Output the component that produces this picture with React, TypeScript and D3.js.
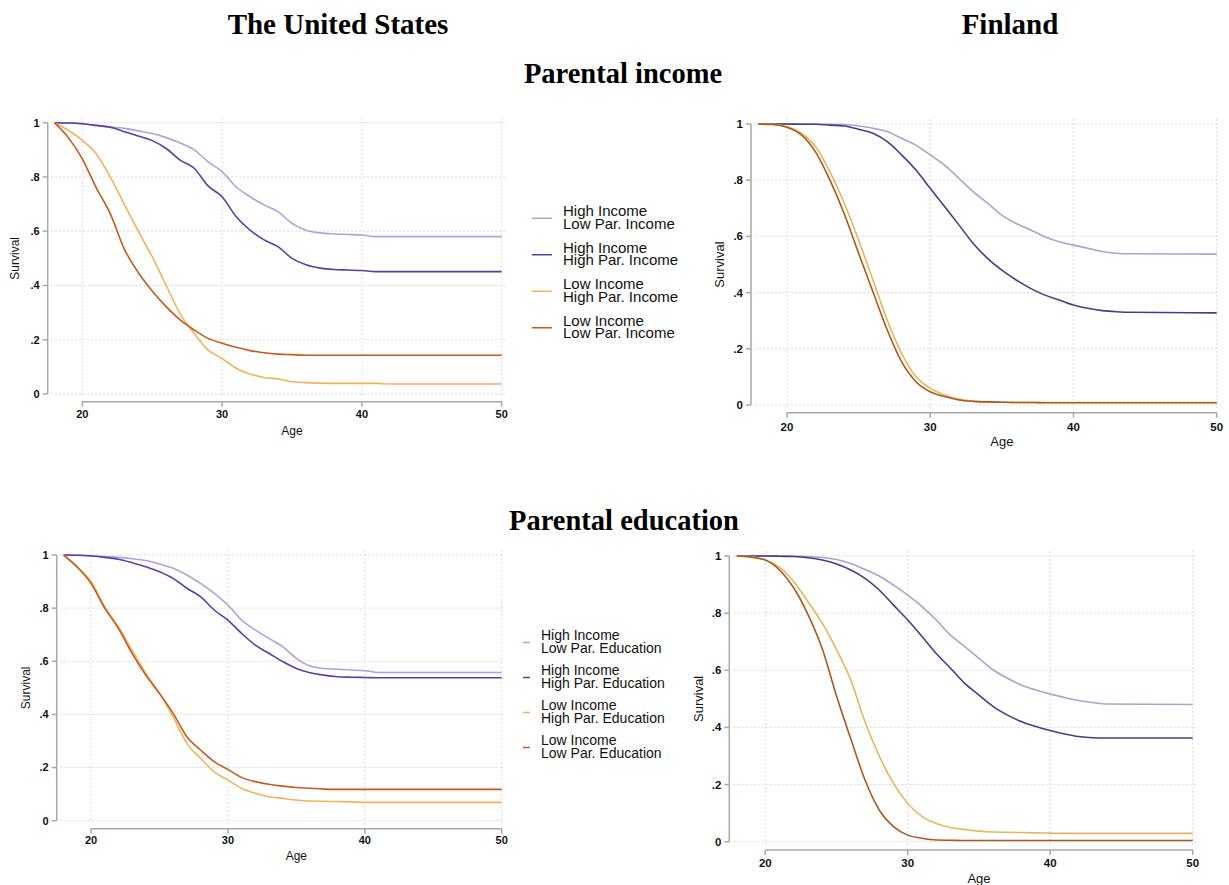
import React from "react";
import * as d3 from "d3";

const AGES = [18, 19, 20, 21, 22, 23, 24, 25, 26, 27, 28, 29, 30, 31, 32, 33, 34, 35, 36, 37, 38, 39, 40, 41, 42, 43, 44, 50];
const X_TICKS = [20, 30, 40, 50];
const Y_TICKS = [0, 0.2, 0.4, 0.6, 0.8, 1];

// US – parental income
const US_INC_HI_LOPAR = [1, 0.999, 0.996, 0.99, 0.985, 0.979, 0.97, 0.96, 0.945, 0.925, 0.9, 0.856, 0.82, 0.764, 0.727, 0.697, 0.672, 0.629, 0.604, 0.594, 0.59, 0.588, 0.586, 0.58, 0.58, 0.58, 0.58, 0.58];
const US_INC_HI_HIPAR = [1, 0.999, 0.996, 0.99, 0.983, 0.967, 0.951, 0.934, 0.905, 0.862, 0.832, 0.767, 0.727, 0.654, 0.604, 0.568, 0.543, 0.5, 0.476, 0.464, 0.459, 0.457, 0.455, 0.451, 0.451, 0.451, 0.451, 0.451];
const US_INC_LO_HIPAR = [1, 0.972, 0.935, 0.885, 0.8, 0.7, 0.6, 0.506, 0.4, 0.295, 0.223, 0.162, 0.131, 0.095, 0.074, 0.061, 0.055, 0.045, 0.042, 0.04, 0.039, 0.039, 0.039, 0.039, 0.037, 0.037, 0.037, 0.037];
const US_INC_LO_LOPAR = [1, 0.945, 0.867, 0.76, 0.665, 0.535, 0.448, 0.38, 0.322, 0.273, 0.236, 0.205, 0.187, 0.172, 0.16, 0.152, 0.147, 0.145, 0.143, 0.143, 0.143, 0.143, 0.143, 0.143, 0.143, 0.143, 0.143, 0.143];

// Finland – parental income
const FI_INC_HI_LOPAR = [1, 1, 1, 1, 0.999, 0.999, 0.998, 0.993, 0.985, 0.973, 0.949, 0.925, 0.89, 0.854, 0.807, 0.759, 0.718, 0.676, 0.646, 0.623, 0.599, 0.581, 0.569, 0.558, 0.546, 0.54, 0.538, 0.537];
const FI_INC_HI_HIPAR = [1, 1, 1, 0.999, 0.999, 0.996, 0.993, 0.981, 0.967, 0.937, 0.89, 0.836, 0.771, 0.706, 0.641, 0.575, 0.522, 0.48, 0.445, 0.415, 0.391, 0.374, 0.356, 0.344, 0.336, 0.332, 0.33, 0.328];
const FI_INC_LO_HIPAR = [1, 0.999, 0.99, 0.967, 0.919, 0.83, 0.718, 0.587, 0.445, 0.302, 0.184, 0.101, 0.059, 0.036, 0.021, 0.014, 0.012, 0.01, 0.009, 0.009, 0.009, 0.009, 0.009, 0.009, 0.009, 0.009, 0.009, 0.009];
const FI_INC_LO_LOPAR = [1, 0.998, 0.988, 0.961, 0.9, 0.8, 0.68, 0.54, 0.403, 0.267, 0.154, 0.083, 0.047, 0.03, 0.018, 0.013, 0.011, 0.01, 0.009, 0.009, 0.008, 0.008, 0.008, 0.008, 0.008, 0.008, 0.008, 0.008];

// US – parental education
const US_EDU_HI_LOPAR = [1, 0.999, 0.997, 0.994, 0.991, 0.986, 0.979, 0.966, 0.95, 0.925, 0.893, 0.856, 0.812, 0.755, 0.718, 0.686, 0.655, 0.611, 0.582, 0.573, 0.57, 0.567, 0.565, 0.558, 0.558, 0.558, 0.558, 0.558];
const US_EDU_HI_HIPAR = [1, 0.999, 0.996, 0.991, 0.984, 0.971, 0.956, 0.937, 0.912, 0.875, 0.843, 0.793, 0.755, 0.705, 0.661, 0.63, 0.599, 0.573, 0.557, 0.548, 0.542, 0.54, 0.539, 0.538, 0.538, 0.538, 0.538, 0.538];
const US_EDU_LO_HIPAR = [1, 0.956, 0.9, 0.806, 0.73, 0.642, 0.555, 0.479, 0.391, 0.291, 0.235, 0.184, 0.153, 0.122, 0.103, 0.09, 0.084, 0.078, 0.074, 0.073, 0.072, 0.071, 0.069, 0.069, 0.069, 0.069, 0.069, 0.069];
const US_EDU_LO_LOPAR = [1, 0.954, 0.893, 0.8, 0.724, 0.63, 0.548, 0.479, 0.404, 0.316, 0.266, 0.222, 0.193, 0.163, 0.147, 0.137, 0.13, 0.125, 0.122, 0.119, 0.118, 0.118, 0.118, 0.118, 0.118, 0.118, 0.118, 0.118];

// Finland – parental education
const FI_EDU_HI_LOPAR = [1, 1, 1, 1, 0.999, 0.998, 0.995, 0.988, 0.974, 0.953, 0.93, 0.898, 0.863, 0.823, 0.776, 0.723, 0.683, 0.642, 0.601, 0.572, 0.548, 0.531, 0.517, 0.505, 0.494, 0.487, 0.482, 0.48];
const FI_EDU_HI_HIPAR = [1, 1, 1, 0.999, 0.998, 0.994, 0.986, 0.972, 0.951, 0.922, 0.881, 0.828, 0.776, 0.718, 0.659, 0.607, 0.554, 0.513, 0.473, 0.443, 0.42, 0.403, 0.389, 0.377, 0.368, 0.364, 0.363, 0.363];
const FI_EDU_LO_HIPAR = [1, 0.997, 0.986, 0.96, 0.91, 0.84, 0.765, 0.672, 0.566, 0.42, 0.3, 0.204, 0.134, 0.088, 0.064, 0.05, 0.043, 0.037, 0.034, 0.033, 0.032, 0.031, 0.03, 0.029, 0.029, 0.029, 0.029, 0.029];
const FI_EDU_LO_LOPAR = [1, 0.996, 0.986, 0.951, 0.888, 0.795, 0.675, 0.51, 0.36, 0.216, 0.111, 0.053, 0.023, 0.012, 0.006, 0.005, 0.004, 0.004, 0.004, 0.004, 0.004, 0.004, 0.004, 0.004, 0.004, 0.004, 0.004, 0.004];

const LEGEND_INCOME = [
  ["High Income", "Low Par. Income"],
  ["High Income", "High Par. Income"],
  ["Low Income", "High Par. Income"],
  ["Low Income", "Low Par. Income"],
];
const LEGEND_EDU = [
  ["High Income", "Low Par. Education"],
  ["High Income", "High Par. Education"],
  ["Low Income", "High Par. Education"],
  ["Low Income", "Low Par. Education"],
];

const US_COLORS = ["#aca3dc", "#5a3da6", "#f1b35e", "#c8591f"];
const FI_COLORS = ["#aaa3cd", "#4a3a8c", "#e7b65c", "#a9591f"];

const SANS = "'Liberation Sans', Arial, Helvetica, sans-serif";
const SERIF = "'Liberation Serif', 'Times New Roman', serif";

type PanelProps = {
  series: number[][];
  colors: string[];
  xr: [number, number];
  yr: [number, number];
  yAxisX: number;
  xAxisY: number;
  tickDy: number;
  ageDy: number;
  survDx: number;
  tickSize: number;
  labelSize: number;
};

function Panel(p: PanelProps) {
  const x = d3.scaleLinear().domain([20, 50]).range(p.xr);
  const y = d3.scaleLinear().domain([0, 1]).range(p.yr);
  const line = d3
    .line<number>()
    .x((_, i) => x(AGES[i]))
    .y((d) => y(d))
    .curve(d3.curveMonotoneX);
  const fmt = (v: number) => (v === 0 ? "0" : v === 1 ? "1" : d3.format(".1f")(v).replace(/^0/, ""));
  const gx0 = x(18) - 3;
  const gx1 = x(50) + 3;
  const gy0 = y(1) - 5;
  const gy1 = y(0) + 3;
  const axisColor = "#a8a8a8";
  return (
    <g>
      {Y_TICKS.map((t) => (
        <line key={"gy" + t} x1={gx0} x2={gx1} y1={y(t)} y2={y(t)} stroke="#cfcfcf" strokeWidth={1} strokeDasharray="1.5,2.5" />
      ))}
      {X_TICKS.map((t) => (
        <line key={"gx" + t} x1={x(t)} x2={x(t)} y1={gy0} y2={gy1} stroke="#cfcfcf" strokeWidth={1} strokeDasharray="1.5,2.5" />
      ))}
      <line x1={p.yAxisX} x2={p.yAxisX} y1={y(1)} y2={y(0)} stroke={axisColor} strokeWidth={1.5} />
      {Y_TICKS.map((t) => (
        <g key={"yt" + t}>
          <line x1={p.yAxisX - 5} x2={p.yAxisX} y1={y(t)} y2={y(t)} stroke={axisColor} strokeWidth={1.5} />
          <text x={p.yAxisX - 8} y={y(t)} dy="0.35em" textAnchor="end" fontFamily={SANS} fontWeight="bold" fontSize={p.tickSize} fill="#111">
            {fmt(t)}
          </text>
        </g>
      ))}
      <line x1={x(20)} x2={x(50)} y1={p.xAxisY} y2={p.xAxisY} stroke={axisColor} strokeWidth={1.5} />
      {X_TICKS.map((t) => (
        <g key={"xt" + t}>
          <line x1={x(t)} x2={x(t)} y1={p.xAxisY} y2={p.xAxisY + 5} stroke={axisColor} strokeWidth={1.5} />
          <text x={x(t)} y={p.xAxisY + p.tickDy} textAnchor="middle" fontFamily={SANS} fontWeight="bold" fontSize={p.tickSize} fill="#111">
            {t}
          </text>
        </g>
      ))}
      <text x={(x(20) + x(50)) / 2} y={p.xAxisY + p.ageDy} textAnchor="middle" fontFamily={SANS} fontSize={p.labelSize} fill="#111">
        Age
      </text>
      <text
        transform={`translate(${p.yAxisX - p.survDx},${(y(0) + y(1)) / 2}) rotate(-90)`}
        textAnchor="middle"
        dy="0.35em"
        fontFamily={SANS}
        fontSize={p.labelSize}
        fill="#111"
      >
        Survival
      </text>
      {p.series.map((s, i) => (
        <path key={"s" + i} d={line(s) || ""} fill="none" stroke={p.colors[i]} strokeWidth={1.6} />
      ))}
    </g>
  );
}

function Legend(props: { items: string[][]; colors: string[]; x0: number; x1: number; tx: number; y0: number; step: number; lh: number; size: number }) {
  return (
    <g>
      {props.items.map((it, i) => {
        const by = props.y0 + i * props.step;
        const ly = by + props.lh * 0.5 - 4;
        return (
          <g key={i}>
            <line x1={props.x0} x2={props.x1} y1={ly} y2={ly} stroke={props.colors[i]} strokeWidth={1.5} />
            <text x={props.tx} y={by} fontFamily={SANS} fontSize={props.size} fill="#111">
              <tspan x={props.tx} y={by}>{it[0]}</tspan>
              <tspan x={props.tx} y={by + props.lh}>{it[1]}</tspan>
            </text>
          </g>
        );
      })}
    </g>
  );
}

export default function App() {
  return (
    <div style={{ position: "absolute", left: 0, top: 0 }}>
      <svg width={1229} height={885} style={{ display: "block", background: "#fff" }}>
        <text x={338} y={34} textAnchor="middle" fontFamily={SERIF} fontWeight="bold" fontSize={29} fill="#000">
          The United States
        </text>
        <text x={1010} y={34} textAnchor="middle" fontFamily={SERIF} fontWeight="bold" fontSize={29} fill="#000">
          Finland
        </text>
        <text x={623} y={83} textAnchor="middle" fontFamily={SERIF} fontWeight="bold" fontSize={28.5} fill="#000">
          Parental income
        </text>
        <text x={624} y={530} textAnchor="middle" fontFamily={SERIF} fontWeight="bold" fontSize={28.5} fill="#000">
          Parental education
        </text>

        <Panel
          series={[US_INC_HI_LOPAR, US_INC_HI_HIPAR, US_INC_LO_HIPAR, US_INC_LO_LOPAR]}
          colors={US_COLORS}
          xr={[82.3, 501.7]}
          yr={[394, 122.7]}
          yAxisX={47.7}
          xAxisY={401.7}
          tickDy={16.5}
          ageDy={33}
          survDx={33}
          tickSize={11}
          labelSize={12}
        />
        <Panel
          series={[FI_INC_HI_LOPAR, FI_INC_HI_HIPAR, FI_INC_LO_HIPAR, FI_INC_LO_LOPAR]}
          colors={FI_COLORS}
          xr={[787, 1216.7]}
          yr={[405, 124]}
          yAxisX={751}
          xAxisY={412.7}
          tickDy={18}
          ageDy={33}
          survDx={32}
          tickSize={11.5}
          labelSize={13}
        />
        <Panel
          series={[US_EDU_HI_LOPAR, US_EDU_HI_HIPAR, US_EDU_LO_HIPAR, US_EDU_LO_LOPAR]}
          colors={US_COLORS}
          xr={[91, 501.7]}
          yr={[820.7, 555]}
          yAxisX={56.7}
          xAxisY={828.7}
          tickDy={15}
          ageDy={31}
          survDx={31}
          tickSize={11}
          labelSize={12}
        />
        <Panel
          series={[FI_EDU_HI_LOPAR, FI_EDU_HI_HIPAR, FI_EDU_LO_HIPAR, FI_EDU_LO_LOPAR]}
          colors={FI_COLORS}
          xr={[765.3, 1192.7]}
          yr={[841.7, 556]}
          yAxisX={729.3}
          xAxisY={850}
          tickDy={17}
          ageDy={33}
          survDx={31}
          tickSize={11.5}
          labelSize={13}
        />

        <Legend items={LEGEND_INCOME} colors={US_COLORS} x0={532} x1={552} tx={563} y0={216} step={36.5} lh={12.5} size={15} />
        <Legend items={LEGEND_EDU} colors={US_COLORS} x0={523} x1={530} tx={541} y0={640} step={35} lh={13} size={14} />
      </svg>
    </div>
  );
}
